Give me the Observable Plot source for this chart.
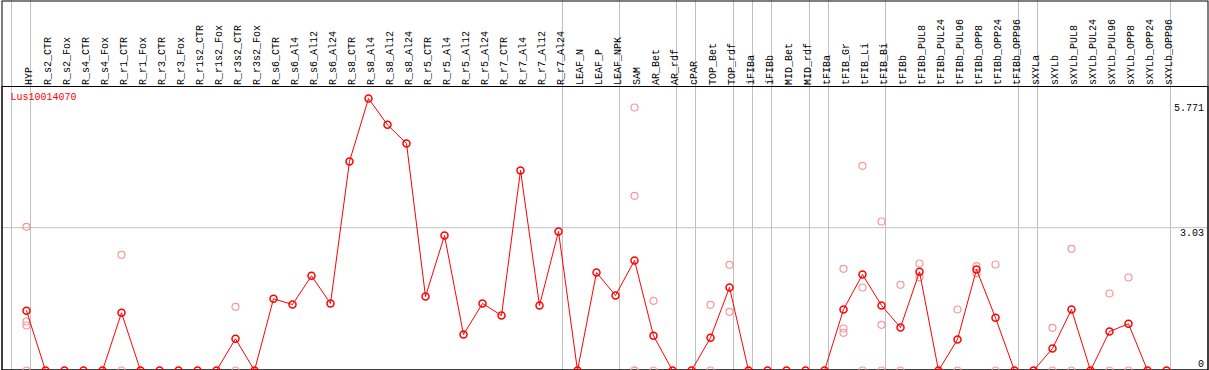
<!DOCTYPE html>
<html>
<head>
<meta charset="utf-8">
<script src="https://cdn.jsdelivr.net/npm/d3@7"></script>
<script src="https://cdn.jsdelivr.net/npm/@observablehq/plot@0.6"></script>
<style>
  html, body { margin: 0; padding: 0; background: white; }
  #chart svg { display: block; }
</style>
</head>
<body>
<div id="chart"></div>
<script>
const geneName = "Lus10014070";

const samples = [
  "HYP","R_s2_CTR","R_s2_Fox","R_s4_CTR","R_s4_Fox","R_r1_CTR","R_r1_Fox","R_r3_CTR","R_r3_Fox",
  "R_r1s2_CTR","R_r1s2_Fox","R_r3s2_CTR","R_r3s2_Fox","R_s6_CTR","R_s6_Al4","R_s6_Al12","R_s6_Al24",
  "R_s8_CTR","R_s8_Al4","R_s8_Al12","R_s8_Al24","R_r5_CTR","R_r5_Al4","R_r5_Al12","R_r5_Al24",
  "R_r7_CTR","R_r7_Al4","R_r7_Al12","R_r7_Al24","LEAF_N","LEAF_P","LEAF_NPK","SAM","AR_Bet","AR_rdf",
  "cPAR","TOP_Bet","TOP_rdf","iFIBa","iFIBb","MID_Bet","MID_rdf","tFIBa","tFIB_Gr","tFIB_Li","tFIB_Bi",
  "tFIBb","tFIBb_PUL8","tFIBb_PUL24","tFIBb_PUL96","tFIBb_OPP8","tFIBb_OPP24","tFIBb_OPP96",
  "sXYLa","sXYLb","sXYLb_PUL8","sXYLb_PUL24","sXYLb_PUL96","sXYLb_OPP8","sXYLb_OPP24","sXYLb_OPP96"
];

const meanValues = [
  1.267, 0, 0, 0, 0, 1.224, 0, 0, 0,
  0, 0, 0.672, 0, 1.521, 1.400, 2.009, 1.422,
  4.435, 5.771, 5.213, 4.816, 1.570, 2.864, 0.764, 1.422,
  1.167, 4.244, 1.379, 2.949, 0, 2.079, 1.591, 2.334, 0.736, 0,
  0, 0.694, 1.761, 0, 0, 0, 0, 0, 1.294, 2.037, 1.379,
  0.912, 2.094, 0, 0.658, 2.143, 1.118, 0,
  0, 0.467, 1.294, 0, 0.827, 0.991, 0, 0
];

const replicateSamples = [
  "HYP","HYP","HYP","HYP",
  "R_r1_CTR","R_r1_CTR",
  "R_r3s2_CTR","R_r3s2_CTR",
  "SAM","SAM","SAM","SAM",
  "AR_Bet","AR_Bet",
  "TOP_Bet","TOP_Bet",
  "TOP_rdf","TOP_rdf",
  "tFIB_Gr","tFIB_Gr","tFIB_Gr",
  "tFIB_Li","tFIB_Li","tFIB_Li",
  "tFIB_Bi","tFIB_Bi","tFIB_Bi",
  "tFIBb","tFIBb",
  "tFIBb_PUL8","tFIBb_PUL8",
  "tFIBb_PUL96","tFIBb_PUL96",
  "tFIBb_OPP8","tFIBb_OPP8",
  "tFIBb_OPP24","tFIBb_OPP24",
  "sXYLb","sXYLb",
  "sXYLb_PUL8","sXYLb_PUL8",
  "sXYLb_PUL96","sXYLb_PUL96",
  "sXYLb_OPP8","sXYLb_OPP8"
];
const replicateValues = [
  3.049, 1.040, 0.955, 0,
  2.455, 0,
  1.352, 0,
  5.580, 3.707, 0, 0,
  1.479, 0,
  1.394, 0,
  2.243, 1.245,
  2.158, 0.891, 0.800,
  4.343, 1.761, 0,
  3.161, 0.970, 0,
  1.818, 0,
  2.270, 1.980,
  1.294, 0,
  2.213, 2.064,
  2.249, 0,
  0.906, 0,
  2.582, 0,
  1.634, 0,
  1.973, 0
];

// last sample of each group (a separator follows it)
const groupEnds = ["HYP","R_r7_Al24","LEAF_NPK","AR_rdf","cPAR","TOP_rdf","iFIBa","iFIBb",
  "MID_rdf","tFIBa","tFIB_Bi","tFIBb_OPP96","sXYLa","sXYLb_OPP96"];

const refLine = [3.03];
const topTick = [5.771];
const zeroTick = [0];

const means = samples.map((s, i) => ({sample: s, value: meanValues[i]}));
const reps = replicateSamples.map((s, i) => ({sample: s, value: replicateValues[i]}));

const gray = "#c0c0c0";

const chart = Plot.plot({
  width: 1209,
  height: 370,
  marginTop: 0.5,
  marginLeft: 1.5,
  marginRight: 1.5,
  marginBottom: 0.5,
  x: {type: "point", domain: samples, range: [26, 1166], padding: 0, axis: null},
  y: {domain: [0, 5.771], range: [370, 98], axis: null},
  style: {fontFamily: "'Liberation Mono', 'DejaVu Sans Mono', monospace", fontSize: "10px", background: "white", overflow: "hidden"},
  marks: [
    Plot.ruleY(refLine, {y: d => d, stroke: gray, strokeWidth: 1}),
    Plot.ruleX([samples[0]], {x: d => d, dx: -15, stroke: gray, strokeWidth: 1}),
    Plot.ruleX(groupEnds, {x: d => d, dx: 4, stroke: gray, strokeWidth: 1}),
    Plot.frame({stroke: "black", strokeWidth: 1}),
    Plot.frame({stroke: "black", strokeWidth: 1, insetTop: 85.5}),
    Plot.text(samples, {x: d => d, text: d => d, frameAnchor: "top", dx: -2, dy: 84, rotate: -90, textAnchor: "start", fill: "black"}),
    Plot.text([geneName], {text: d => d, frameAnchor: "top-left", dx: 8.5, dy: 92, lineAnchor: "top", textAnchor: "start", fill: "red"}),
    Plot.text(topTick, {y: d => d, text: d => String(d), frameAnchor: "right", dx: -4, dy: 5, lineAnchor: "top", textAnchor: "end", fill: "black"}),
    Plot.text(refLine, {y: d => d, text: d => String(d), frameAnchor: "right", dx: -4, dy: 1, lineAnchor: "top", textAnchor: "end", fill: "black"}),
    Plot.text(zeroTick, {y: d => d, text: d => String(d), frameAnchor: "right", dx: -4, dy: -3.5, lineAnchor: "bottom", textAnchor: "end", fill: "black"}),
    Plot.dot(reps, {x: "sample", y: "value", r: 3.5, stroke: "#f09a9a", strokeWidth: 1.2, fill: "none"}),
    Plot.line(means, {x: "sample", y: "value", stroke: "red", strokeWidth: 1}),
    Plot.dot(means, {x: "sample", y: "value", r: 3.5, stroke: "red", strokeWidth: 1.5, fill: "none"})
  ]
});

document.getElementById("chart").appendChild(chart);
</script>
</body>
</html>
